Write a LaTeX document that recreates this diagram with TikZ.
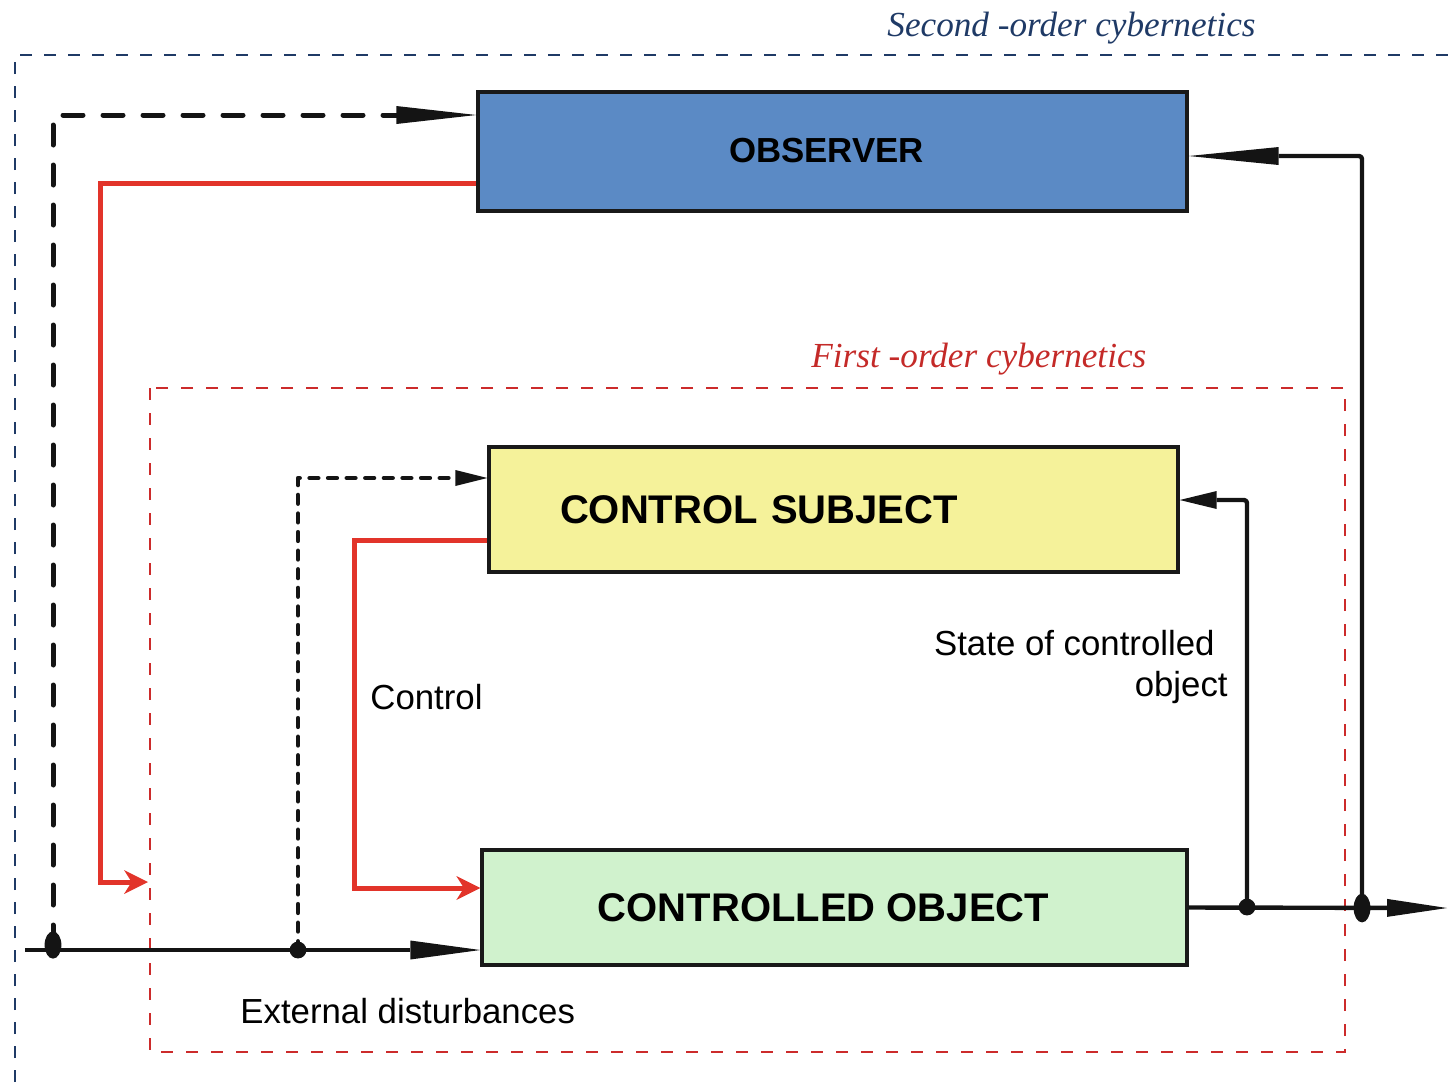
\documentclass[tikz,border=0pt]{standalone}
\usepackage{fontspec}
\setmainfont{Liberation Serif}
\setsansfont{Liberation Sans}
\usetikzlibrary{arrows.meta}
\definecolor{navy}{HTML}{1F3A66}
\definecolor{redline}{HTML}{E2342A}
\definecolor{reddash}{HTML}{CC2B2B}
\definecolor{redtext}{HTML}{C42A28}
\definecolor{obsfill}{HTML}{5B8AC5}
\definecolor{csfill}{HTML}{F5F29A}
\definecolor{cofill}{HTML}{D0F2CD}
\begin{document}
\begin{tikzpicture}[x=0.5pt,y=-0.5pt,
  box/.style={draw=black!90, line width=1.7pt, inner sep=0pt},
  boxtext/.style={font=\sffamily\bfseries\fontsize{#1}{#1}\selectfont},
  label/.style={font=\sffamily\fontsize{17.4}{20.5}\selectfont, inner sep=0pt},
  frametitle/.style={font=\itshape\fontsize{17.6}{20}\selectfont, inner sep=0pt, anchor=base west},
  navydash/.style={draw=navy, line width=1pt, dash pattern=on 6pt off 6pt},
  reddashed/.style={draw=reddash, line width=1pt, dash pattern=on 6pt off 6.5pt},
  flow/.style={draw=black!92, line width=2.2pt, line join=round, rounded corners=1.5pt},
  tip/.style args={#1/#2}{-{Triangle[length=#1, width=#2, line width=0pt]}},
  ctrl/.style={draw=redline, line width=2.5pt,
    -{Stealth[length=12pt, width=12pt, inset=3.8pt, line width=0pt]}},
  longdash/.style={draw=black!92, line width=2.5pt, line cap=round, line join=round,
    dash pattern=on 10pt off 10pt},
  shortdash/.style={draw=black!92, line width=2.3pt, line cap=round, line join=round,
    dash pattern=on 4.3pt off 5pt},
]
\useasboundingbox (0,0) rectangle (1449,1082);

% frames of the two orders of cybernetics
\draw[navydash] (15,1082) -- (15,55) -- (1449,55);
\node[frametitle, text=navy] (t2) at (887,36) {Second -order cybernetics};
\draw[reddashed] (150,388) rectangle (1345,1052);
\node[frametitle, text=redtext] (t1) at (811,367) {First -order cybernetics};

% blocks
\node[box, fill=obsfill, minimum width=354.5pt, minimum height=59.5pt, boxtext=17.4]
  (obs) at (832.5,151.5) {\raisebox{1.5pt}{\hspace*{-6pt}OBSERVER}};
\node[box, fill=csfill, minimum height=62.5pt, text width=273.5pt, inner xsep=35.5pt,
  align=left, boxtext=20] (cs) at (833.5,509.5) {CONTROL SUBJECT};
\node[box, fill=cofill, minimum width=352.5pt, minimum height=57.5pt, boxtext=20]
  (co) at (834.5,907.5) {\hspace*{-11pt}CONTROLLED OBJECT};

% junctions and free ends
\coordinate (src) at (25,950);
\coordinate (j1) at (53,945);
\coordinate (j2) at (298,950);
\coordinate (j3) at (1247,907);
\coordinate (j4) at (1362,908);
\coordinate (sink) at (1447,908);
\coordinate (fo) at (148,882);

% external disturbances into the controlled object
\draw[flow, tip=35pt/9.5pt] (src) -- (co.west |- src);
% output of the controlled object
\draw[flow, tip=30pt/9pt] (co.east) -- (sink);
% state feedback to the control subject
\draw[flow, tip=18.5pt/9pt] (j3) |- (cs.east |- 0,500);
% state feedback to the observer
\draw[flow, tip=45pt/9pt] (j4) |- (obs.east |- 0,156);

% disturbances observed
\draw[longdash] (j1) |- ([xshift=-38pt]obs.west |- 0,115);
\draw[flow, tip=40pt/9pt] ([xshift=-40pt]obs.west |- 0,115) -- (obs.west |- 0,115);
\draw[shortdash] (j2) |- ([xshift=-15pt]cs.west |- 0,478);
\draw[flow, tip=16pt/8pt] ([xshift=-16pt]cs.west |- 0,478) -- (cs.west |- 0,478);

% control actions
\draw[ctrl] (obs.west |- 0,183) -| (100,882) -- (fo);
\draw[ctrl] (cs.west |- 0,540) -| (354,888) -- (co.west |- 0,888);

% junction dots
\fill[black!92] (j1) ellipse [x radius=4.2pt, y radius=6.8pt];
\fill[black!92] (j2) circle [radius=4.2pt];
\fill[black!92] (j3) circle [radius=4.2pt];
\fill[black!92] (j4) ellipse [x radius=4.2pt, y radius=7.2pt];

% labels
\node[label, anchor=base west] (lc) at (370,709) {Control};
\node[label, anchor=base west] (le) at (240,1023) {External disturbances};
\node[label, align=right, anchor=north east] (ls) at (1228,630)
  {State of controlled\hspace*{6.5pt}\\object};
\end{tikzpicture}
\end{document}
